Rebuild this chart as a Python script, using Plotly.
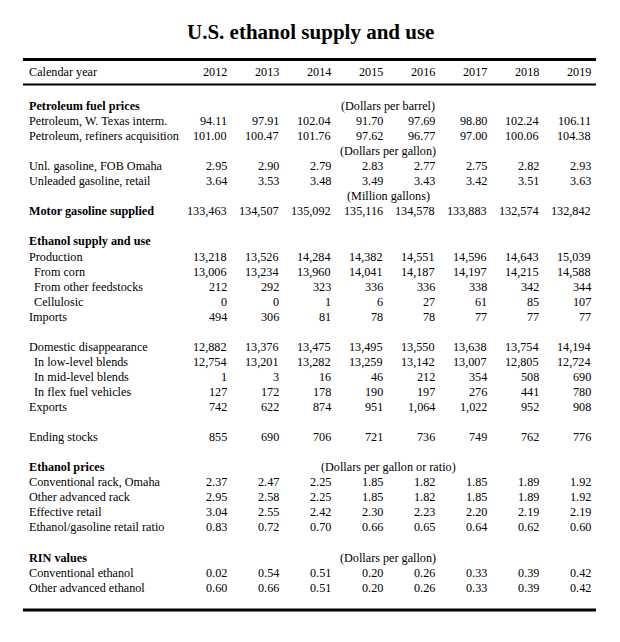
import plotly.graph_objects as go

# ---------------- data ----------------
years = [2012, 2013, 2014, 2015, 2016, 2017, 2018, 2019]

wti_price = [94.11, 97.91, 102.04, 91.70, 97.69, 98.80, 102.24, 106.11]
refiners_acq = [101.00, 100.47, 101.76, 97.62, 96.77, 97.00, 100.06, 104.38]
unl_gas_omaha = [2.95, 2.90, 2.79, 2.83, 2.77, 2.75, 2.82, 2.93]
unl_gas_retail = [3.64, 3.53, 3.48, 3.49, 3.43, 3.42, 3.51, 3.63]
motor_gas_supplied = [133463, 134507, 135092, 135116, 134578, 133883, 132574, 132842]

production = [13218, 13526, 14284, 14382, 14551, 14596, 14643, 15039]
from_corn = [13006, 13234, 13960, 14041, 14187, 14197, 14215, 14588]
from_other = [212, 292, 323, 336, 336, 338, 342, 344]
cellulosic = [0, 0, 1, 6, 27, 61, 85, 107]
imports = [494, 306, 81, 78, 78, 77, 77, 77]

domestic = [12882, 13376, 13475, 13495, 13550, 13638, 13754, 14194]
low_level = [12754, 13201, 13282, 13259, 13142, 13007, 12805, 12724]
mid_level = [1, 3, 16, 46, 212, 354, 508, 690]
flex_fuel = [127, 172, 178, 190, 197, 276, 441, 780]
exports = [742, 622, 874, 951, 1064, 1022, 952, 908]

ending_stocks = [855, 690, 706, 721, 736, 749, 762, 776]

conv_rack = [2.37, 2.47, 2.25, 1.85, 1.82, 1.85, 1.89, 1.92]
other_adv_rack = [2.95, 2.58, 2.25, 1.85, 1.82, 1.85, 1.89, 1.92]
effective_retail = [3.04, 2.55, 2.42, 2.30, 2.23, 2.20, 2.19, 2.19]
eth_gas_ratio = [0.83, 0.72, 0.70, 0.66, 0.65, 0.64, 0.62, 0.60]

rin_conventional = [0.02, 0.54, 0.51, 0.20, 0.26, 0.33, 0.39, 0.42]
rin_other_adv = [0.60, 0.66, 0.51, 0.20, 0.26, 0.33, 0.39, 0.42]

title_text = "U.S. ethanol supply and use"

# ---------------- layout of table ----------------
# (row, label, indent, bold, values, format)
rows = [
    (0, "Petroleum fuel prices", False, True, None, None),
    (1, "Petroleum, W. Texas interm.", False, False, wti_price, "{:.2f}"),
    (2, "Petroleum, refiners acquisition", False, False, refiners_acq, "{:.2f}"),
    (4, "Unl. gasoline, FOB Omaha", False, False, unl_gas_omaha, "{:.2f}"),
    (5, "Unleaded gasoline, retail", False, False, unl_gas_retail, "{:.2f}"),
    (7, "Motor gasoline supplied", False, True, motor_gas_supplied, "{:,}"),
    (9, "Ethanol supply and use", False, True, None, None),
    (10, "Production", False, False, production, "{:,}"),
    (11, "From corn", True, False, from_corn, "{:,}"),
    (12, "From other feedstocks", True, False, from_other, "{:,}"),
    (13, "Cellulosic", True, False, cellulosic, "{:,}"),
    (14, "Imports", False, False, imports, "{:,}"),
    (16, "Domestic disappearance", False, False, domestic, "{:,}"),
    (17, "In low-level blends", True, False, low_level, "{:,}"),
    (18, "In mid-level blends", True, False, mid_level, "{:,}"),
    (19, "In flex fuel vehicles", True, False, flex_fuel, "{:,}"),
    (20, "Exports", False, False, exports, "{:,}"),
    (22, "Ending stocks", False, False, ending_stocks, "{:,}"),
    (24, "Ethanol prices", False, True, None, None),
    (25, "Conventional rack, Omaha", False, False, conv_rack, "{:.2f}"),
    (26, "Other advanced rack", False, False, other_adv_rack, "{:.2f}"),
    (27, "Effective retail", False, False, effective_retail, "{:.2f}"),
    (28, "Ethanol/gasoline retail ratio", False, False, eth_gas_ratio, "{:.2f}"),
    (30, "RIN values", False, True, None, None),
    (31, "Conventional ethanol", False, False, rin_conventional, "{:.2f}"),
    (32, "Other advanced ethanol", False, False, rin_other_adv, "{:.2f}"),
]
unit_rows = [
    (0, "(Dollars per barrel)"),
    (3, "(Dollars per gallon)"),
    (6, "(Million gallons)"),
    (24, "(Dollars per gallon or ratio)"),
    (30, "(Dollars per gallon)"),
]

FONT = "Liberation Serif"
FS = 12.2
COLW = 52.0          # px per column
X0 = 229.0           # px of right edge of first column
ROW0 = 106.0         # px of first row
ROWH = 15.05         # px per row
W, H = 620, 642

xa = -X0 / COLW
xb = xa + W / COLW
ya = -ROW0 / ROWH
yb = ya + H / ROWH

def px2x(p):
    return (p - X0) / COLW

def px2y(p):
    return (p - ROW0) / ROWH

LABEL_X = px2x(27)
INDENT_X = px2x(32)
UNIT_X = px2x(388)

ann = []
# header
hdr_y = px2y(72)
ann.append(dict(x=LABEL_X, y=hdr_y, text="Calendar year", xanchor="left", yanchor="middle",
                showarrow=False, font=dict(family=FONT, size=FS, color="black")))
for i, yr in enumerate(years):
    ann.append(dict(x=i, y=hdr_y, text=str(yr), xanchor="right", yanchor="middle",
                    showarrow=False, font=dict(family=FONT, size=FS, color="black")))

for r, label, indent, bold, vals, fmt in rows:
    txt = f"<b>{label}</b>" if bold else label
    ann.append(dict(x=INDENT_X if indent else LABEL_X, y=r, text=txt, xanchor="left",
                    yanchor="middle", showarrow=False,
                    font=dict(family=FONT, size=FS, color="black")))
    if vals is not None:
        for i, v in enumerate(vals):
            ann.append(dict(x=i, y=r, text=fmt.format(v), xanchor="right", yanchor="middle",
                            showarrow=False, font=dict(family=FONT, size=FS, color="black")))

for r, t in unit_rows:
    ann.append(dict(x=UNIT_X, y=r, text=t, xanchor="center", yanchor="middle",
                    showarrow=False, font=dict(family=FONT, size=FS, color="black")))

# title
ann.append(dict(x=px2x(310), y=px2y(32), text=f"<b>{title_text}</b>", xanchor="center",
                yanchor="middle", showarrow=False,
                font=dict(family=FONT, size=21, color="black")))

LINE_L = px2x(23)
LINE_R = px2x(596)
shapes = [
    dict(type="line", x0=LINE_L, x1=LINE_R, y0=px2y(59.5), y1=px2y(59.5),
         line=dict(color="black", width=3)),
    dict(type="line", x0=LINE_L, x1=LINE_R, y0=px2y(84.5), y1=px2y(84.5),
         line=dict(color="black", width=2)),
    dict(type="line", x0=LINE_L, x1=LINE_R, y0=px2y(610), y1=px2y(610),
         line=dict(color="black", width=3)),
]

fig = go.Figure()
fig.add_trace(go.Scatter(x=[xa, xb], y=[ya, yb], mode="markers",
                         marker=dict(opacity=0), hoverinfo="skip", showlegend=False))
fig.update_layout(
    width=W, height=H,
    margin=dict(l=0, r=0, t=0, b=0),
    paper_bgcolor="white", plot_bgcolor="white",
    xaxis=dict(range=[xa, xb], visible=False, fixedrange=True),
    yaxis=dict(range=[yb, ya], visible=False, fixedrange=True),
    annotations=ann, shapes=shapes, showlegend=False,
)
fig.write_html("out.html", config={"displayModeBar": False},
               post_script="document.body.style.margin='0px';document.body.style.overflow='hidden';")
